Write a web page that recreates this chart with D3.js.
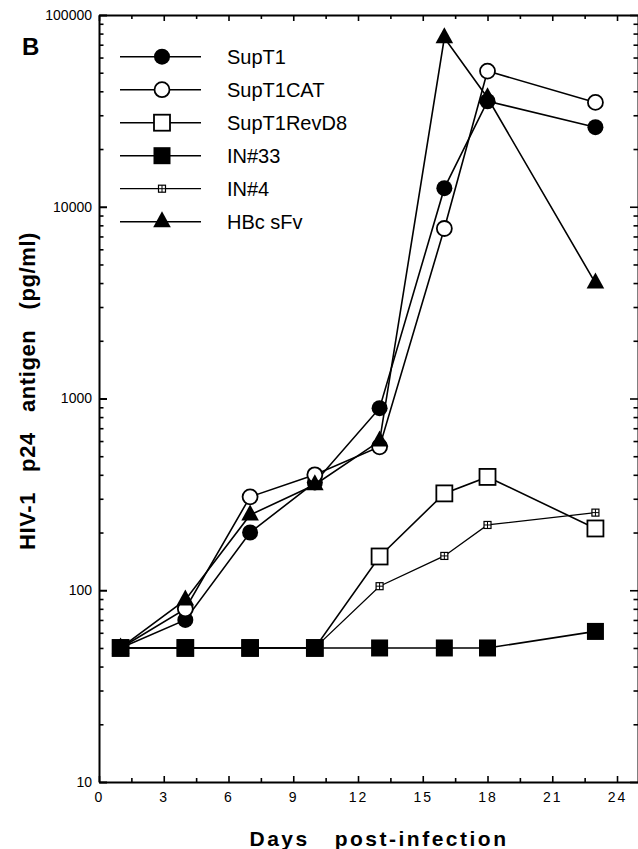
<!DOCTYPE html>
<html>
<head>
<meta charset="utf-8">
<script src="https://cdn.jsdelivr.net/npm/d3@7"></script>
<style>
  html, body { margin: 0; padding: 0; background: #fff; }
  svg { display: block; font-family: "Liberation Sans", Arial, Helvetica, sans-serif; }
</style>
</head>
<body>
<svg id="chart" width="638" height="849"></svg>
<script>
// ---- data ----
const days = [1, 4, 7, 10, 13, 16, 18, 23];
const seriesNames = ["SupT1", "SupT1CAT", "SupT1RevD8", "IN#33", "IN#4", "HBc sFv"];
const supT1      = [50, 70, 200, 365, 890, 12500, 35500, 26000];
const supT1CAT   = [50, 80, 307, 400, 560, 7700, 51000, 35000];
const supT1RevD8 = [50, 50, 50, 50, 150, 320, 390, 210];
const in33       = [50, 50, 50, 50, 50, 50, 50, 61];
const in4        = [50, 50, 50, 50, 105, 151, 219, 254];
const hbcSFv     = [50, 89, 247, 355, 600, 76000, 37000, 4000];
const xTickLabels = [0, 3, 6, 9, 12, 15, 18, 21, 24];
const yTickLabels = [10, 100, 1000, 10000, 100000];

const svg = d3.select("#chart");
const x = d3.scaleLinear().domain([0, 25]).range([99, 638.6]);
const y = d3.scaleLog().domain([10, 100000]).range([782, 15]);

const minorX = d3.range(1.5, 24, 3);
const minorY = [];
for (let d = 10; d < 100000; d *= 10) for (let k = 2; k <= 9; k++) minorY.push(d * k);

// ---- axes ----
function styleAxis(g) {
  g.selectAll(".domain").attr("stroke", "#000").attr("stroke-width", 2);
  g.selectAll(".tick line").attr("stroke", "#000").attr("stroke-width", 1.6);
}
function styleMinor(g) {
  g.select(".domain").remove();
  g.selectAll(".tick line").attr("stroke", "#000").attr("stroke-width", 1.6);
}
// bottom
const gx = svg.append("g").attr("transform", "translate(0,782)")
  .call(d3.axisBottom(x).tickValues(xTickLabels).tickSize(-6).tickSizeOuter(0).tickPadding(10)
    .tickFormat(d3.format("d")));
styleAxis(gx);
gx.selectAll("text").attr("font-size", 14).attr("letter-spacing", 2).attr("fill", "#000")
  .attr("font-family", "Liberation Sans, Arial, sans-serif");
svg.append("g").attr("transform", "translate(0,782)")
  .call(d3.axisBottom(x).tickValues(minorX).tickSize(-4).tickSizeOuter(0).tickFormat(""))
  .call(styleMinor);
// top
const gt = svg.append("g").attr("transform", "translate(0,15)")
  .call(d3.axisTop(x).tickValues(xTickLabels).tickSize(-6).tickSizeOuter(0).tickFormat(""));
styleAxis(gt);
svg.append("g").attr("transform", "translate(0,15)")
  .call(d3.axisTop(x).tickValues(minorX).tickSize(-4).tickSizeOuter(0).tickFormat(""))
  .call(styleMinor);
// left
const gy = svg.append("g").attr("transform", "translate(99,0)")
  .call(d3.axisLeft(y).tickValues(yTickLabels).tickSize(-8).tickSizeOuter(0).tickPadding(7)
    .tickFormat(d3.format("d")));
styleAxis(gy);
gy.selectAll(".tick line").attr("stroke-width", 2);
gy.selectAll("text").attr("font-size", 14).attr("fill", "#000")
  .attr("font-family", "Liberation Sans, Arial, sans-serif");
svg.append("g").attr("transform", "translate(99,0)")
  .call(d3.axisLeft(y).tickValues(minorY).tickSize(-4.5).tickSizeOuter(0).tickFormat(""))
  .call(styleMinor);
// right
const gr = svg.append("g").attr("transform", "translate(638,0)")
  .call(d3.axisRight(y).tickValues(yTickLabels).tickSize(-8).tickSizeOuter(0).tickFormat(""));
styleAxis(gr);
svg.append("g").attr("transform", "translate(638,0)")
  .call(d3.axisRight(y).tickValues(minorY).tickSize(-4.5).tickSizeOuter(0).tickFormat(""))
  .call(styleMinor);

// ---- markers ----
function drawMarker(g, type, cx, cy) {
  const m = g.append("g").attr("transform", `translate(${cx},${cy})`);
  if (type === "fcircle") m.append("circle").attr("r", 8).attr("fill", "#000");
  else if (type === "ocircle") m.append("circle").attr("r", 7.5).attr("fill", "#fff").attr("stroke", "#000").attr("stroke-width", 1.8);
  else if (type === "osquare") m.append("rect").attr("x", -8).attr("y", -8).attr("width", 16).attr("height", 16)
    .attr("fill", "#fff").attr("stroke", "#000").attr("stroke-width", 1.8);
  else if (type === "fsquare") m.append("rect").attr("x", -8.5).attr("y", -8.5).attr("width", 17).attr("height", 17).attr("fill", "#000");
  else if (type === "xsquare") {
    m.append("rect").attr("x", -3.5).attr("y", -3.5).attr("width", 7).attr("height", 7)
      .attr("fill", "#fff").attr("stroke", "#000").attr("stroke-width", 1.2);
    m.append("path").attr("d", "M-3.5,0H3.5M0,-3.5V3.5").attr("stroke", "#000").attr("stroke-width", 1);
  } else if (type === "triangle") m.append("path").attr("d", "M0,-10.5L8.8,5.5L-8.8,5.5Z").attr("fill", "#000");
}

const series = [
  { name: seriesNames[0], values: supT1, marker: "fcircle" },
  { name: seriesNames[1], values: supT1CAT, marker: "ocircle" },
  { name: seriesNames[2], values: supT1RevD8, marker: "osquare" },
  { name: seriesNames[3], values: in33, marker: "fsquare" },
  { name: seriesNames[4], values: in4, marker: "xsquare" },
  { name: seriesNames[5], values: hbcSFv, marker: "triangle" }
];
const drawOrder = [4, 2, 0, 1, 5, 3];

const line = d3.line().x(d => x(d[0])).y(d => y(d[1]));
const plot = svg.append("g");
drawOrder.forEach(i => {
  const s = series[i];
  const pts = days.map((d, j) => [d, s.values[j]]);
  const g = plot.append("g");
  g.append("path").attr("d", line(pts)).attr("fill", "none").attr("stroke", "#000")
    .attr("stroke-width", s.marker === "xsquare" ? 1.3 : 1.6);
  pts.forEach(p => drawMarker(g, s.marker, x(p[0]), y(p[1])));
});

// ---- legend ----
const legend = svg.append("g");
series.forEach((s, i) => {
  const ry = 56.7 + i * 33;
  legend.append("line").attr("x1", 120).attr("x2", 201).attr("y1", ry).attr("y2", ry)
    .attr("stroke", "#000").attr("stroke-width", s.marker === "xsquare" ? 1.3 : 1.6);
  drawMarker(legend, s.marker, 162, ry);
  legend.append("text").attr("x", 227).attr("y", ry + 7).attr("font-size", 20).attr("fill", "#000").text(s.name);
});

// ---- titles ----
svg.append("text").attr("x", 22).attr("y", 55).attr("font-size", 24).attr("font-weight", "bold").text("B");
svg.append("text").attr("transform", "translate(35,391) rotate(-90)").attr("text-anchor", "middle")
  .attr("font-size", 22).attr("font-weight", "bold").attr("letter-spacing", 0.6)
  .style("white-space", "pre").text("HIV-1   p24   antigen   (pg/ml)");
svg.append("text").attr("x", 379).attr("y", 846).attr("text-anchor", "middle")
  .attr("font-size", 21).attr("font-weight", "bold").attr("letter-spacing", 2.5).style("white-space", "pre")
  .text("Days   post-infection");
</script>
</body>
</html>
